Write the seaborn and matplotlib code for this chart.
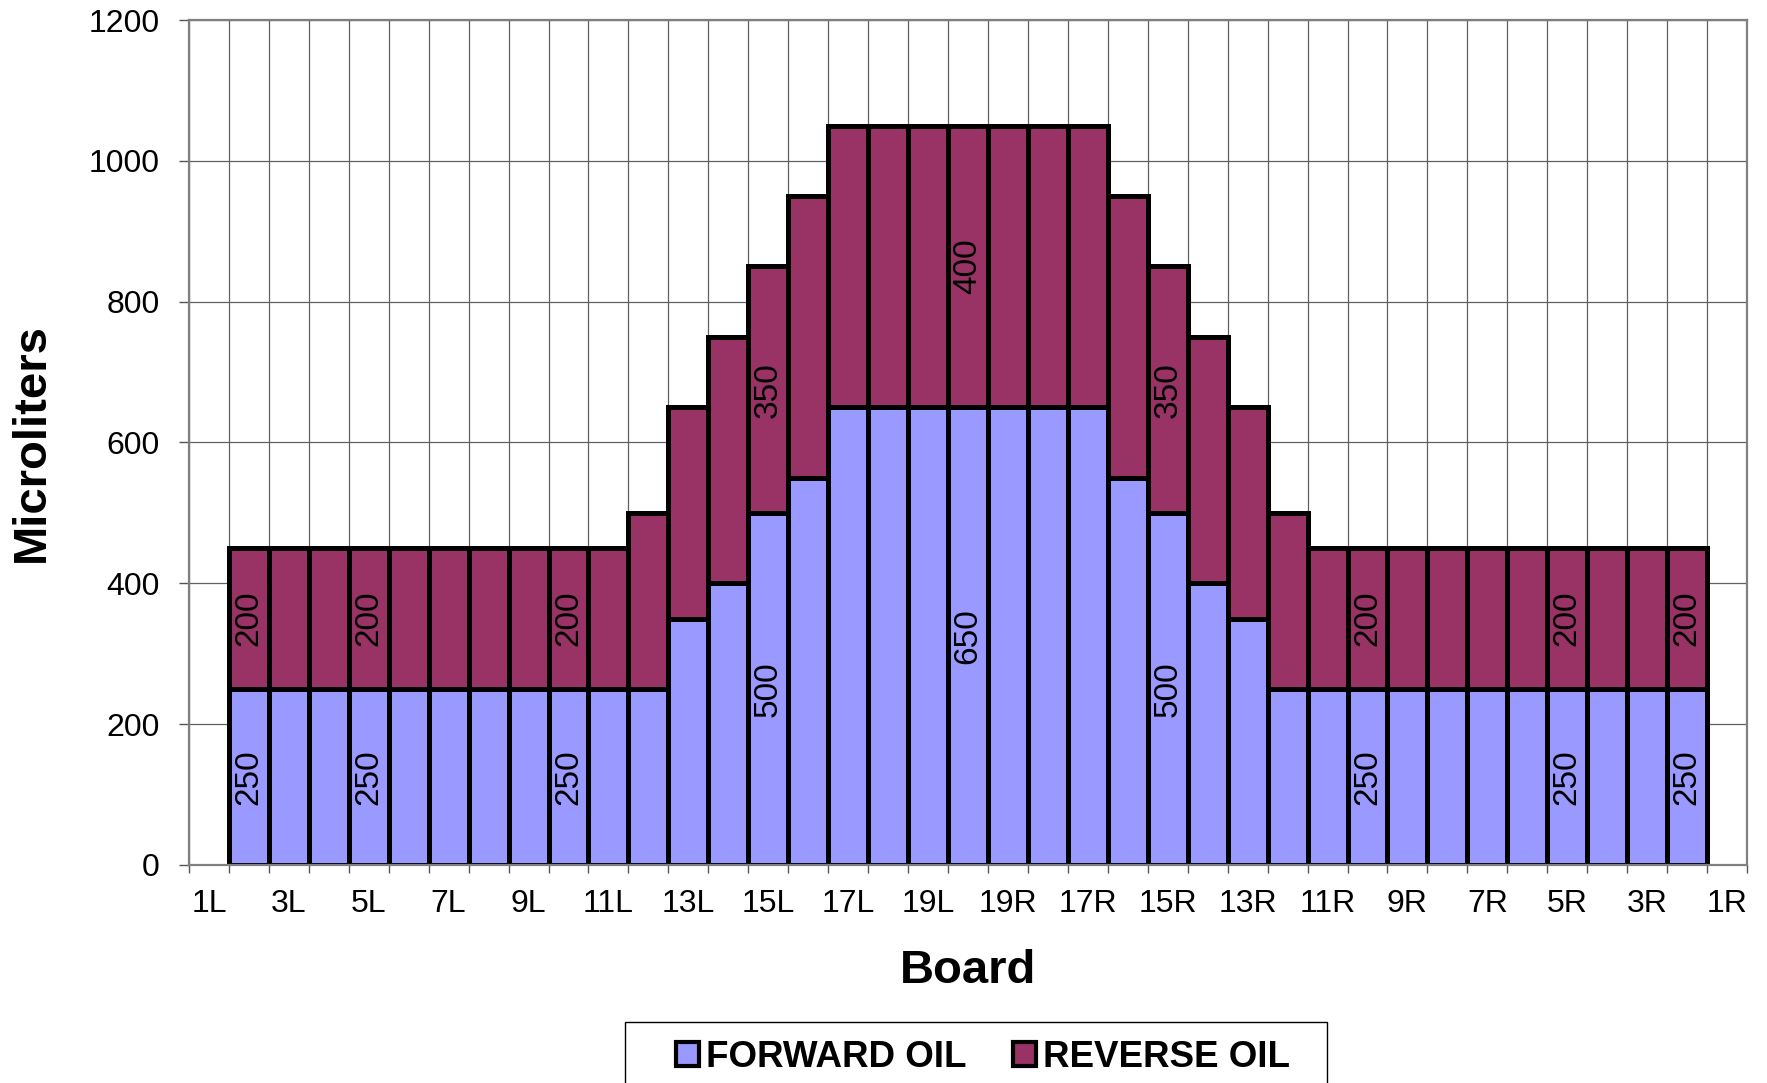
import numpy as np
import pandas as pd
import matplotlib
matplotlib.use("Agg")
import matplotlib.pyplot as plt
import seaborn as sns
from matplotlib.patches import Patch, Rectangle

# board positions, left half, centre board, right half
boards = ["1L", "2L", "3L", "4L", "5L", "6L", "7L", "8L", "9L", "10L",
          "11L", "12L", "13L", "14L", "15L", "16L", "17L", "18L", "19L", "20",
          "19R", "18R", "17R", "16R", "15R", "14R", "13R", "12R", "11R", "10R",
          "9R", "8R", "7R", "6R", "5R", "4R", "3R", "2R", "1R"]

forward_oil = [np.nan, 250, 250, 250, 250, 250, 250, 250, 250, 250,
               250, 250, 350, 400, 500, 550, 650, 650, 650, 650,
               650, 650, 650, 550, 500, 400, 350, 250, 250, 250,
               250, 250, 250, 250, 250, 250, 250, 250, np.nan]

reverse_oil = [np.nan, 200, 200, 200, 200, 200, 200, 200, 200, 200,
               200, 250, 300, 350, 350, 400, 400, 400, 400, 400,
               400, 400, 400, 400, 350, 350, 300, 250, 200, 200,
               200, 200, 200, 200, 200, 200, 200, 200, np.nan]

# boards that carry value labels
labelled_boards = ["2L", "5L", "10L", "15L", "20", "15R", "10R", "5R", "2R"]

FWD_COLOR = "#9999FF"
REV_COLOR = "#993366"
W, H = 1767, 1083

df = pd.DataFrame({"board": boards, "forward": forward_oil, "reverse": reverse_oil})
df["total"] = df["forward"] + df["reverse"]
plot_df = df.dropna()

sns.set_style("white")
plt.rcParams["font.family"] = ["Liberation Sans", "DejaVu Sans"]
plt.rcParams["text.color"] = "black"
plt.rcParams["xtick.color"] = "black"
plt.rcParams["ytick.color"] = "black"
plt.rcParams["axes.labelcolor"] = "black"

fig = plt.figure(figsize=(W / 100, H / 100), dpi=100)
ax = fig.add_axes([189 / W, 1 - 865 / H, (1747 - 189) / W, (865 - 20) / H])

# total bar first (reverse colour), forward bar on top -> stacked look
sns.barplot(data=plot_df, x="board", y="total", order=boards, color=REV_COLOR,
            width=1, saturation=1, edgecolor="black", linewidth=3.6,
            errorbar=None, ax=ax)
sns.barplot(data=plot_df, x="board", y="forward", order=boards, color=FWD_COLOR,
            width=1, saturation=1, edgecolor="black", linewidth=3.6,
            errorbar=None, ax=ax)

# value labels inside segments
for i, b in enumerate(boards):
    if b not in labelled_boards:
        continue
    f = forward_oil[i]
    r = reverse_oil[i]
    ax.text(i, f / 2, f"{int(f)}", rotation=90, ha="center", va="center",
            fontsize=24, color="black")
    ax.text(i, f + r / 2, f"{int(r)}", rotation=90, ha="center", va="center",
            fontsize=24, color="black")

ax.set_xlim(-0.5, len(boards) - 0.5)
ax.set_ylim(0, 1200)
ax.set_yticks(range(0, 1201, 200))

ax.set_xticks(range(0, len(boards), 2))
ax.set_xticklabels(boards[::2])
ax.set_xticks(np.arange(-0.5, len(boards), 1), minor=True)
ax.tick_params(axis="x", which="major", length=0, pad=17, labelsize=23)
ax.tick_params(axis="x", which="minor", length=6, width=1, color="#555555",
               direction="out", bottom=True)
ax.tick_params(axis="y", which="major", length=7, width=1, color="#555555",
               direction="out", left=True, pad=14, labelsize=23)

ax.set_axisbelow(True)
ax.grid(which="minor", axis="x", color="#606060", linewidth=0.9)
ax.grid(which="major", axis="y", color="#606060", linewidth=0.9)
ax.grid(which="major", axis="x", visible=False)

for s in ax.spines.values():
    s.set_visible(True)
    s.set_color("#808080")
    s.set_linewidth(1.6)

ax.set_xlabel("Board", fontsize=34, fontweight="bold")
ax.set_ylabel("Microliters", fontsize=34, fontweight="bold")
ax.xaxis.set_label_coords(0.5, -(971 - 865) / 845)
ax.xaxis.label.set_va("center")
ax.yaxis.set_label_coords(-(189 - 32) / 1558, 0.5)
ax.yaxis.label.set_va("center")

# legend box (runs off the bottom edge like the original)
fig.patches.append(Rectangle((625 / W, -0.05), (1327 - 625) / W, 0.05 + 1 - 1022 / H,
                             transform=fig.transFigure, facecolor="white",
                             edgecolor="black", linewidth=1.0, zorder=1))

handles = [
    Patch(facecolor=FWD_COLOR, edgecolor="black", linewidth=3),
    Patch(facecolor=REV_COLOR, edgecolor="black", linewidth=3),
]
leg = fig.legend(handles, ["FORWARD OIL", "REVERSE OIL"], ncol=2,
                 loc="upper left", bbox_to_anchor=(676 / W, 1 - 1040 / H),
                 prop={"size": 26.5, "weight": "bold"}, frameon=False,
                 borderpad=0, borderaxespad=0, handlelength=0.62, handleheight=0.62,
                 handletextpad=0.2, columnspacing=1.25)
leg.set_zorder(2)

fig.savefig("out.png", dpi=100, facecolor="white")
